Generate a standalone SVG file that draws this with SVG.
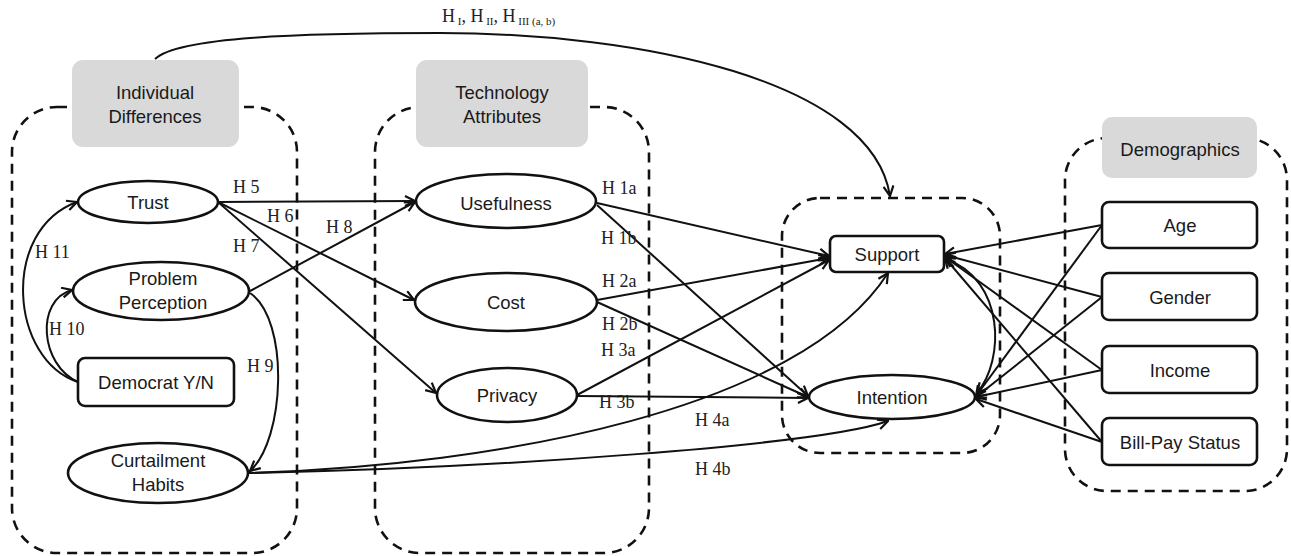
<svg xmlns="http://www.w3.org/2000/svg" width="1291" height="556" viewBox="0 0 1291 556">
<style>
.grp{fill:none;stroke:#111;stroke-width:2.6;stroke-dasharray:10 7}
.hdr{fill:#d9d9d9;stroke:none}
.nd{fill:#fff;stroke:#111;stroke-width:2.6}
.t{font-family:"Liberation Sans",Arial,sans-serif;font-size:18.5px;fill:#1a1a1a;text-anchor:middle}
.c{fill:none;stroke:#111;stroke-width:2;marker-end:url(#ah)}
.lb{font-family:"Liberation Serif","Times New Roman",serif;font-size:18px;fill:#222}
</style>
<defs>
<marker id="ah" viewBox="0 0 12 12" refX="11" refY="6" markerWidth="12" markerHeight="12" markerUnits="userSpaceOnUse" orient="auto-start-reverse">
<path d="M1,1 L11,6 L1,11" fill="none" stroke="#111" stroke-width="2.2"/>
</marker>
</defs>
<rect width="1291" height="556" fill="#fff"/>

<g id="group-individual">
<rect class="grp" x="12" y="107" width="285" height="446" rx="45"/>
<rect class="hdr" x="72" y="60" width="167" height="87" rx="11"/>
<text class="t" x="155" y="99">Individual</text>
<text class="t" x="155" y="123">Differences</text>
</g>
<g id="group-technology">
<rect class="grp" x="375" y="107" width="274" height="446" rx="45"/>
<rect class="hdr" x="416" y="60" width="172" height="87" rx="11"/>
<text class="t" x="502" y="99">Technology</text>
<text class="t" x="502" y="123">Attributes</text>
</g>
<g id="group-outcomes">
<rect class="grp" x="782" y="198" width="218" height="255" rx="38"/>
</g>
<g id="group-demographics">
<rect class="grp" x="1065" y="138" width="222" height="353" rx="42"/>
<rect class="hdr" x="1102" y="117" width="155" height="61" rx="10"/>
<text class="t" x="1180" y="156">Demographics</text>
</g>

<g id="connectors">
<path class="c" d="M155,59 C178,37 300,33 440,33 C640,33 872,80 890,196"/>
<path class="c" d="M218,202 L415,201"/>
<path class="c" d="M218,202 L414,300"/>
<path class="c" d="M218,202 L436,393"/>
<path class="c" d="M250,291 L415,202"/>
<path class="c" d="M78,382 C10,360 0,230 77,202"/>
<path class="c" d="M78,382 C40,365 35,300 72,290"/>
<path class="c" d="M250,293 C290,320 285,440 250,471"/>
<path class="c" d="M248,473 C500,465 800,410 888,273"/>
<path class="c" d="M248,473 C500,468 820,445 888,421"/>
<path class="c" d="M597,203 L829,256"/>
<path class="c" d="M597,205 L808,396"/>
<path class="c" d="M597,300 L829,258"/>
<path class="c" d="M597,302 L808,397"/>
<path class="c" d="M577,395 L829,260"/>
<path class="c" d="M577,396 L808,398"/>
<path class="c" d="M1102,225 L945,254"/>
<path class="c" d="M1102,225 L976,396"/>
<path class="c" d="M1102,297 L945,255"/>
<path class="c" d="M1102,297 L976,397"/>
<path class="c" d="M1102,370 L945,257"/>
<path class="c" d="M1102,370 L976,397"/>
<path class="c" d="M1102,442 L945,258"/>
<path class="c" d="M1102,442 L976,399"/>
<path class="c" d="M946,259 C1005,280 1005,360 977,393" marker-start="url(#ah)"/>
</g>

<g id="edge-labels">
<text class="lb" x="442" y="22">H<tspan font-size="11" dy="3"> I</tspan><tspan dy="-3">, H</tspan><tspan font-size="11" dy="3"> II</tspan><tspan dy="-3">, H</tspan><tspan font-size="11" dy="3"> III (a, b)</tspan></text>
<text class="lb" x="233" y="193">H 5</text>
<text class="lb" x="267" y="222">H 6</text>
<text class="lb" x="233" y="252">H 7</text>
<text class="lb" x="326" y="233">H 8</text>
<text class="lb" x="35" y="258">H 11</text>
<text class="lb" x="49" y="335">H 10</text>
<text class="lb" x="247" y="372">H 9</text>
<text class="lb" x="602" y="194">H 1a</text>
<text class="lb" x="601" y="244">H 1b</text>
<text class="lb" x="602" y="287">H 2a</text>
<text class="lb" x="602" y="330">H 2b</text>
<text class="lb" x="601" y="356">H 3a</text>
<text class="lb" x="599" y="408">H 3b</text>
<text class="lb" x="695" y="426">H 4a</text>
<text class="lb" x="695" y="475">H 4b</text>
</g>

<g id="n-trust"><ellipse class="nd" cx="148" cy="202" rx="70" ry="21"/><text class="t" x="148" y="209">Trust</text></g>
<g id="n-problem"><ellipse class="nd" cx="161" cy="291" rx="88" ry="29"/><text class="t" x="163" y="285">Problem</text><text class="t" x="163" y="309">Perception</text></g>
<g id="n-democrat"><rect class="nd" x="78" y="358" width="156" height="48" rx="7"/><text class="t" x="156" y="389">Democrat Y/N</text></g>
<g id="n-curtailment"><ellipse class="nd" cx="158" cy="473" rx="90" ry="30"/><text class="t" x="158" y="467">Curtailment</text><text class="t" x="158" y="491">Habits</text></g>
<g id="n-usefulness"><ellipse class="nd" cx="506" cy="201" rx="90" ry="27"/><text class="t" x="506" y="210">Usefulness</text></g>
<g id="n-cost"><ellipse class="nd" cx="506" cy="302" rx="91" ry="29"/><text class="t" x="506" y="309">Cost</text></g>
<g id="n-privacy"><ellipse class="nd" cx="507" cy="395" rx="70" ry="27"/><text class="t" x="507" y="402">Privacy</text></g>
<g id="n-support"><rect class="nd" x="830" y="236" width="114" height="36" rx="6"/><text class="t" x="887" y="261">Support</text></g>
<g id="n-intention"><ellipse class="nd" cx="892" cy="397" rx="83" ry="22"/><text class="t" x="892" y="404">Intention</text></g>
<g id="n-age"><rect class="nd" x="1102" y="202" width="155" height="46" rx="7"/><text class="t" x="1180" y="232">Age</text></g>
<g id="n-gender"><rect class="nd" x="1102" y="273" width="155" height="47" rx="7"/><text class="t" x="1180" y="304">Gender</text></g>
<g id="n-income"><rect class="nd" x="1102" y="346" width="155" height="47" rx="7"/><text class="t" x="1180" y="377">Income</text></g>
<g id="n-billpay"><rect class="nd" x="1102" y="418" width="155" height="47" rx="7"/><text class="t" x="1180" y="449">Bill-Pay Status</text></g>
</svg>
